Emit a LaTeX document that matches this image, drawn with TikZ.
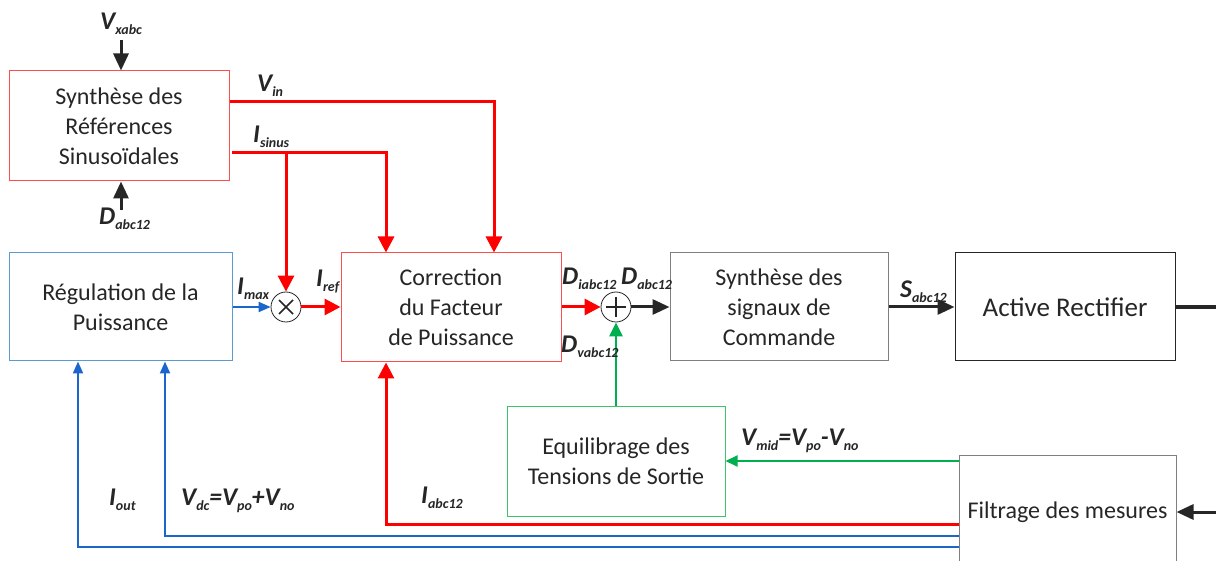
\documentclass[tikz,border=0pt]{standalone}
\usepackage{fontspec}
\setmainfont{Carlito}
\usetikzlibrary{arrows.meta}
\definecolor{cred}{HTML}{FF0000}
\definecolor{cblue}{HTML}{1A66CC}
\definecolor{cgreen}{HTML}{00B050}
\definecolor{cblk}{HTML}{262626}
\definecolor{bred}{HTML}{FF4D4D}
\definecolor{bblue}{HTML}{5B9BD5}
\definecolor{bgreen}{HTML}{3CC36B}
\definecolor{bgray}{HTML}{7F7F7F}
\newcommand{\bmain}[1]{{\fontsize{25.5}{25.5}\selectfont\bfseries\itshape #1}}
\newcommand{\lbl}[2]{\bmain{#1}\raisebox{-5pt}{\fontsize{14}{14}\selectfont\bfseries\itshape #2}}
\tikzset{
  box/.style={draw, line width=1pt, inner sep=0, align=center, font=\fontsize{24}{30}\selectfont, text=cblk},
  lab/.style={anchor=base west, inner sep=0, text=cblk},
  redarr/.style={draw=cred, line width=3pt, -{Triangle[length=16pt,width=16pt]}},
  bluearr/.style={draw=cblue, line width=2pt, -{Triangle[length=12pt,width=10pt]}},
  greenarr/.style={draw=cgreen, line width=2.5pt, -{Triangle[length=14pt,width=13pt]}},
  greensm/.style={draw=cgreen, line width=2pt, -{Triangle[length=12pt,width=11pt]}},
  blkarr/.style={draw=cblk, line width=3pt, -{Triangle[length=17pt,width=15pt]}},
  blkline/.style={draw=cblk, line width=3.5pt},
  op/.style={circle, draw=cblk, line width=0.8pt, minimum size=30pt, inner sep=0, fill=white},
}
\begin{document}
\begin{tikzpicture}[x=1pt,y=-1pt]
\clip (0,0) rectangle (1216,561);
\fill[white] (0,0) rectangle (1216,561);
% boxes
\node[box, draw=bred, minimum width=220pt, minimum height=110pt] (syn) at (119,126) {Synthèse des\\Références\\Sinusoïdales};
\node[box, draw=bblue, minimum width=223pt, minimum height=108pt] (reg) at (120.5,307) {Régulation de la\\Puissance};
\node[box, draw=bred, minimum width=220pt, minimum height=109pt] (cor) at (451,307.5) {Correction\\du Facteur\\de Puissance};
\node[box, draw=bgray, minimum width=218pt, minimum height=108pt] (sig) at (779,307) {Synthèse des\\signaux de\\Commande};
\node[box, draw=cblk, minimum width=220pt, minimum height=108pt, font=\fontsize{27}{30}\selectfont] (ar) at (1065,307) {Active Rectifier};
\node[box, draw=bgreen, minimum width=218pt, minimum height=110pt] (equ) at (616,461) {Equilibrage des\\Tensions de Sortie};
\node[box, draw=bgray, minimum width=217pt, minimum height=114pt] (fil) at (1067.5,512) {Filtrage des mesures};
% operators
\node[op] (mul) at (286,307) {};
\draw[cblk, line width=1.5pt] (mul.center) ++(-7,-7) -- ++(14,14) (mul.center) ++(-7,7) -- ++(14,-14);
\node[op] (sum) at (616,307) {};
\draw[cblk, line width=1.5pt] (sum.center) ++(-10,0) -- ++(20,0) (sum.center) ++(0,-10) -- ++(0,20);
% coordinates
\coordinate (vx) at (121,40);
\coordinate (dx) at (121,210);
\coordinate (vin) at (494,102);
\coordinate (is0) at (232,153);
\coordinate (is1) at (386,153);
\coordinate (ia) at (386,524);
\coordinate (vd) at (165,536);
\coordinate (io) at (78,547);
\coordinate (fin) at (1216,512);
\coordinate (aout) at (1216,307);
% connectors
\draw[blkarr] (vx) -- (vx |- syn.north);
\draw[blkarr] (dx) -- (dx |- syn.south);
\draw[redarr] (syn.east |- vin) -- (vin) -- (vin |- cor.north);
\draw[redarr] (is0) -- (is1) -- (is1 |- cor.north);
\draw[redarr] (is0 -| mul) -- (mul.north);
\draw[bluearr] (reg.east |- mul) -- (mul.west);
\draw[redarr] (mul.east) -- (cor.west |- mul);
\draw[redarr] (cor.east |- sum) -- (sum.west);
\draw[blkarr] (sum.east) -- (sig.west |- sum);
\draw[blkarr] (sig.east) -- (ar.west);
\draw[blkline] (ar.east) -- (aout);
\draw[greenarr] (equ.north) -- (sum.south);
\draw[greensm] (fil.west |- equ.east) -- (equ.east);
\draw[redarr] (fil.west |- ia) -- (ia) -- (ia |- cor.south);
\draw[bluearr] (fil.west |- vd) -- (vd) -- (vd |- reg.south);
\draw[bluearr] (fil.west |- io) -- (io) -- (io |- reg.south);
\draw[blkarr] (fin) -- (fil.east);
% labels
\node[lab] (lvx) at (100,30) {\lbl{V}{xabc}};
\node[lab] (ldx) at (99,225) {\lbl{D}{abc12}};
\node[lab] (lvin) at (257,92) {\lbl{V}{in}};
\node[lab] (lis) at (253,143) {\lbl{I}{sinus}};
\node[lab] (lim) at (237,295) {\lbl{I}{max}};
\node[lab] (lir) at (316,287) {\lbl{I}{ref}};
\node[lab] (ldi) at (562,285) {\lbl{D}{iabc12}};
\node[lab] (ld) at (621,285) {\lbl{D}{abc12}};
\node[lab] (ldv) at (561,353) {\lbl{D}{vabc12}};
\node[lab] (ls) at (900,298) {\lbl{S}{abc12}};
\node[lab] (lvm) at (741,445) {\lbl{V}{mid}\bmain{=}\lbl{V}{po}\bmain{-}\lbl{V}{no}};
\node[lab] (lio) at (109,505) {\lbl{I}{out}};
\node[lab] (lvd) at (181,505) {\lbl{V}{dc}\bmain{=}\lbl{V}{po}\bmain{+}\lbl{V}{no}};
\node[lab] (lia) at (421,503) {\lbl{I}{abc12}};
\end{tikzpicture}
\end{document}
